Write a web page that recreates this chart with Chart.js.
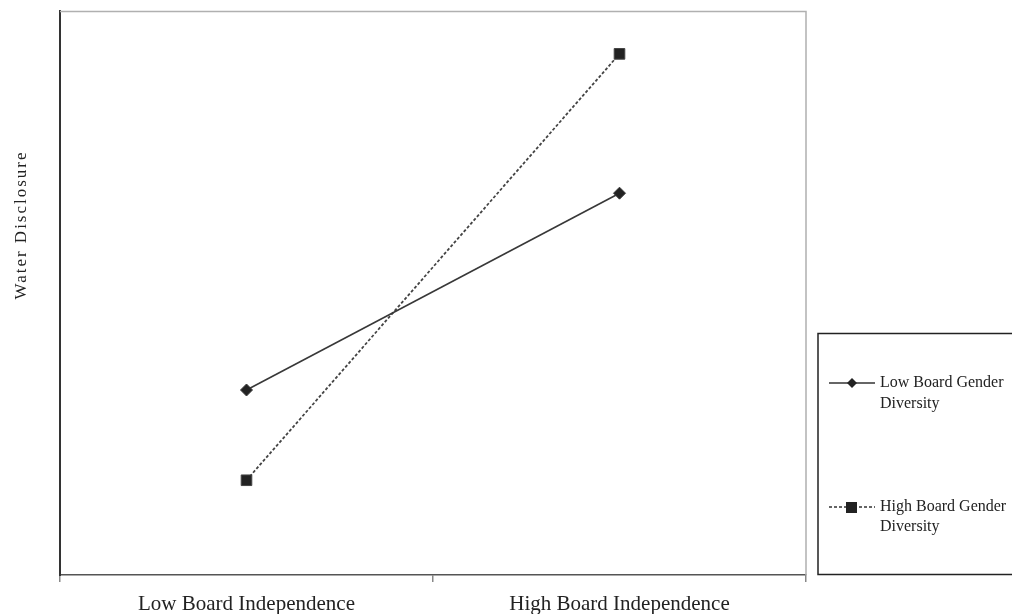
<!DOCTYPE html>
<html>
<head>
<meta charset="utf-8">
<script src="https://cdn.jsdelivr.net/npm/chart.js@4/dist/chart.umd.min.js"></script>
<style>
  html, body { margin: 0; padding: 0; background: #fff; }
  canvas { display: block; }
</style>
</head>
<body>
<canvas id="c" width="1012" height="614"></canvas>
<script>
const categories = ['Low Board Independence', 'High Board Independence'];
const lowGenderDiversity = [3.28, 6.77];
const highGenderDiversity = [1.68, 9.24];
const seriesNames = ['Low Board Gender Diversity', 'High Board Gender Diversity'];
const legendLines = [['Low Board Gender', 'Diversity'], ['High Board Gender', 'Diversity']];
const yTitle = 'Water Disclosure';

const SERIF = '"Liberation Serif", "Times New Roman", serif';

const framePlugin = {
  id: 'frame',
  afterDraw(chart) {
    const { ctx, chartArea: a } = chart;
    ctx.save();
    ctx.strokeStyle = '#b0b0b0';
    ctx.lineWidth = 1.5;
    ctx.beginPath();
    ctx.moveTo(a.left, a.top + 0.5);
    ctx.lineTo(a.right, a.top + 0.5);
    ctx.lineTo(a.right, a.bottom);
    ctx.stroke();

    ctx.fillStyle = '#222';
    ctx.font = '17px ' + SERIF;
    ctx.letterSpacing = '2px';
    ctx.textAlign = 'center';
    ctx.textBaseline = 'middle';
    ctx.translate(22, 225);
    ctx.rotate(-Math.PI / 2);
    ctx.fillText(yTitle, 0, 0);
    ctx.restore();

    ctx.save();
    ctx.strokeStyle = '#222';
    ctx.lineWidth = 1.5;
    ctx.strokeRect(818, 333.5, 200, 241);
    ctx.fillStyle = '#222';
    ctx.font = '16px ' + SERIF;
    ctx.textAlign = 'left';
    ctx.textBaseline = 'middle';
    ctx.strokeStyle = '#333';
    ctx.lineWidth = 1.6;
    ctx.beginPath();
    ctx.moveTo(829, 383);
    ctx.lineTo(875, 383);
    ctx.stroke();
    ctx.beginPath();
    ctx.moveTo(852, 378);
    ctx.lineTo(857, 383);
    ctx.lineTo(852, 388);
    ctx.lineTo(847, 383);
    ctx.closePath();
    ctx.fill();
    ctx.fillText(legendLines[0][0], 880, 383);
    ctx.fillText(legendLines[0][1], 880, 404);
    ctx.setLineDash([3, 2]);
    ctx.beginPath();
    ctx.moveTo(829, 507);
    ctx.lineTo(875, 507);
    ctx.stroke();
    ctx.setLineDash([]);
    ctx.fillRect(846, 502, 11, 11);
    ctx.fillText(legendLines[1][0], 880, 507);
    ctx.fillText(legendLines[1][1], 880, 527);
    ctx.restore();
  }
};

new Chart(document.getElementById('c'), {
  type: 'line',
  data: {
    labels: categories,
    datasets: [
      {
        label: seriesNames[0],
        data: lowGenderDiversity,
        borderColor: '#383838',
        backgroundColor: '#222',
        borderWidth: 1.6,
        pointStyle: 'rectRot',
        pointRadius: 6,
        pointBorderWidth: 1,
        tension: 0
      },
      {
        label: seriesNames[1],
        data: highGenderDiversity,
        borderColor: '#444',
        backgroundColor: '#222',
        borderWidth: 1.8,
        borderDash: [3, 2],
        pointStyle: 'rect',
        pointRadius: 7.5,
        pointBorderWidth: 1,
        tension: 0
      }
    ]
  },
  options: {
    responsive: false,
    animation: false,
    devicePixelRatio: 1,
    layout: { padding: { left: 0, right: 206, top: 11, bottom: 0 } },
    plugins: { legend: { display: false }, tooltip: { enabled: false } },
    scales: {
      x: {
        type: 'category',
        offset: true,
        grid: { offset: true, drawOnChartArea: false, drawTicks: true, tickLength: 7, color: '#888', lineWidth: 1.5 },
        border: { color: '#555', width: 1.5 },
        ticks: { color: '#222', font: { family: SERIF, size: 21 }, padding: 10, maxRotation: 0 },
        afterFit(s) { s.height = 39; }
      },
      y: {
        min: 0, max: 10,
        grid: { display: false, drawTicks: false },
        border: { display: true, color: '#333', width: 2 },
        ticks: { display: false },
        afterFit(s) { s.width = 60; }
      }
    }
  },
  plugins: [framePlugin]
});
</script>
</body>
</html>
